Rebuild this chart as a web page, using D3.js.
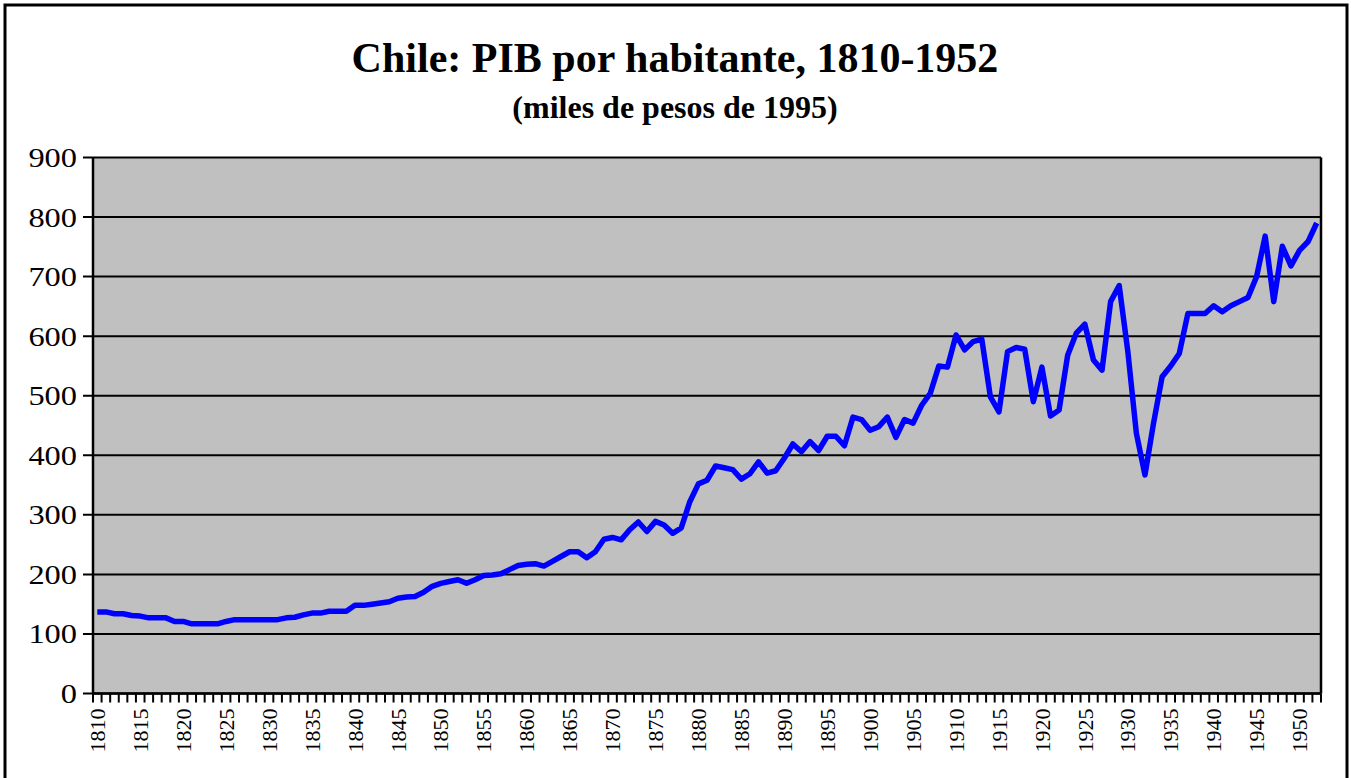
<!DOCTYPE html>
<html>
<head>
<meta charset="utf-8">
<script src="https://cdn.jsdelivr.net/npm/d3@7"></script>
<style>
body { margin: 0; background: #fff; }
text { font-family: "Liberation Serif", "Times New Roman", serif; }
</style>
</head>
<body>
<script>
// categorias: un año por punto
var years = d3.range(1810, 1953)

// PIB por habitante, miles de pesos de 1995
var pib = [
    137, 137, 134, 134, 131, 130, 127, 127, 127, 121,   // 1810
    121, 117, 117, 117, 117, 121, 124, 124, 124, 124,   // 1820
    124, 124, 127, 128, 132, 135, 135, 138, 138, 138,   // 1830
    148, 148, 150, 152, 154, 160, 162, 163, 170, 180,   // 1840
    185, 188, 191, 185, 191, 198, 199, 201, 208, 215,   // 1850
    217, 218, 214, 222, 230, 238, 238, 228, 238, 259,   // 1860
    262, 258, 275, 288, 272, 289, 283, 269, 278, 322,   // 1870
    352, 358, 382, 379, 376, 360, 369, 389, 370, 374,   // 1880
    395, 419, 406, 423, 408, 432, 432, 416, 464, 460,   // 1890
    442, 448, 464, 430, 460, 454, 484, 504, 550, 548,   // 1900
    602, 577, 591, 595, 498, 473, 574, 581, 578, 490,   // 1910
    548, 466, 476, 568, 605, 620, 560, 543, 658, 685,   // 1920
    575, 437, 367, 454, 532, 550, 571, 638, 638, 638,   // 1930
    651, 641, 651, 658, 665, 700, 768, 658, 751, 718,   // 1940
    744, 759, 790                                       // 1950
]

var yTicks = [0, 100, 200, 300, 400, 500, 600, 700, 800, 900]
var xLabels = years.filter(function (d) { return (d - 1810) % 5 == 0 })

var title = "Chile: PIB por habitante, 1810-1952"
var subtitle = "(miles de pesos de 1995)"

var width = 1351, height = 778
var plot = {l: 93, r: 1321, t: 157.5, b: 693.5}

var svg = d3.select("body").append("svg")
    .attr("width", width)
    .attr("height", height)

var x = d3.scaleBand()
    .domain(years)
    .range([plot.l, plot.r])
var y = d3.scaleLinear()
    .domain([0, 900])
    .range([plot.b, plot.t])

// marco exterior
svg.append("rect")
    .attr("x", 5)
    .attr("y", 5)
    .attr("width", 1342)
    .attr("height", 800)
    .attr("fill", "none")
    .attr("stroke", "#000")
    .attr("stroke-width", 3)

svg.append("text")
    .attr("x", 675)
    .attr("y", 72)
    .attr("text-anchor", "middle")
    .style("font-size", "42px")
    .style("font-weight", "bold")
    .text(title)

svg.append("text")
    .attr("x", 675)
    .attr("y", 118)
    .attr("text-anchor", "middle")
    .style("font-size", "32px")
    .style("font-weight", "bold")
    .text(subtitle)

// area de trazado
svg.append("rect")
    .attr("x", plot.l)
    .attr("y", plot.t)
    .attr("width", plot.r - plot.l)
    .attr("height", plot.b - plot.t)
    .attr("fill", "#c0c0c0")

// lineas de division + marcas del eje y
svg.append("g")
    .selectAll("line")
    .data(yTicks)
    .enter()
    .append("line")
    .attr("x1", plot.l - 10)
    .attr("x2", plot.r)
    .attr("y1", function (d) { return y(d) })
    .attr("y2", function (d) { return y(d) })
    .style("stroke", "#000")
    .style("stroke-width", 2)

svg.append("g")
    .selectAll("text")
    .data(yTicks)
    .enter()
    .append("text")
    .attr("transform", function (d) { return "translate(77," + y(d) + ") scale(1.2,1)" })
    .attr("text-anchor", "end")
    .attr("dy", "0.35em")
    .style("font-size", "27px")
    .text(function (d) { return d })

// serie
var line = d3.line()
    .x(function (d, i) { return x(years[i]) + x.bandwidth() / 2 })
    .y(function (d) { return y(d) })

svg.append("path")
    .datum(pib)
    .attr("d", line)
    .attr("fill", "none")
    .attr("stroke", "#0000ff")
    .attr("stroke-width", 5.5)
    .attr("stroke-linejoin", "round")

// eje x: marcas entre categorias
var bounds = years.map(function (d) { return x(d) }).concat([plot.r])
svg.append("g")
    .selectAll("line")
    .data(bounds)
    .enter()
    .append("line")
    .attr("x1", function (d) { return d })
    .attr("x2", function (d) { return d })
    .attr("y1", plot.b)
    .attr("y2", plot.b + 9)
    .style("stroke", "#000")
    .style("stroke-width", 2)

svg.append("g")
    .selectAll("text")
    .data(xLabels)
    .enter()
    .append("text")
    .attr("transform", function (d) {
        return "translate(" + (x(d) + x.bandwidth() / 2) + "," + (plot.b + 15) + ") rotate(-90)"
    })
    .attr("text-anchor", "end")
    .attr("dy", "0.35em")
    .style("font-size", "22px")
    .text(function (d) { return d })

// ejes y borde
svg.append("line")
    .attr("x1", plot.l).attr("x2", plot.l)
    .attr("y1", plot.t).attr("y2", plot.b)
    .style("stroke", "#000").style("stroke-width", 2.5)
svg.append("line")
    .attr("x1", plot.l).attr("x2", plot.r)
    .attr("y1", plot.b).attr("y2", plot.b)
    .style("stroke", "#000").style("stroke-width", 2.5)
svg.append("line")
    .attr("x1", plot.r).attr("x2", plot.r)
    .attr("y1", plot.t).attr("y2", plot.b)
    .style("stroke", "#000").style("stroke-width", 2.5)
</script>
</body>
</html>
